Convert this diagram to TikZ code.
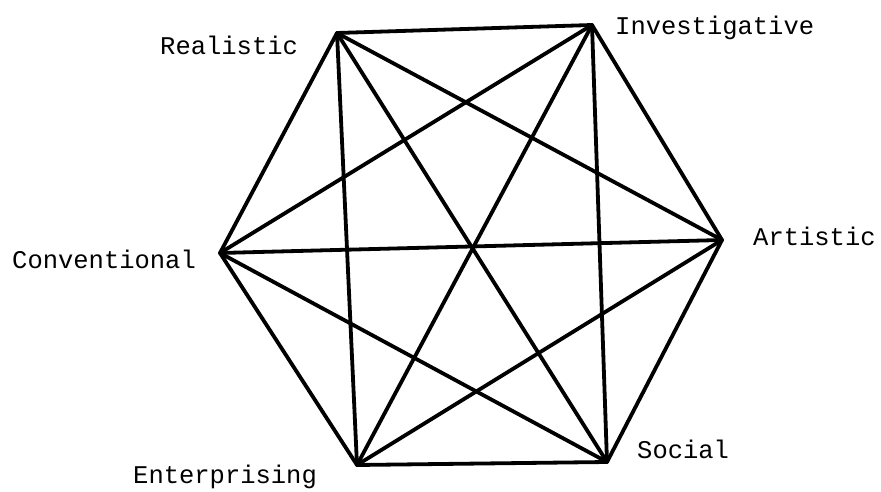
\documentclass[tikz,border=0pt]{standalone}
\usepackage{fontspec}
\setmonofont{Liberation Mono}
\begin{document}
\begin{tikzpicture}[x=1pt,y=1pt,
  vtx/.style={coordinate},
  lbl/.style={anchor=base west,inner sep=0pt,font=\ttfamily\fontsize{25.5}{30}\selectfont},
  edge/.style={line width=3.8pt,line cap=round,line join=round}]
\useasboundingbox (0,0) rectangle (881,491);
\coordinate (R) at (337,458);
\coordinate (I) at (592,466);
\coordinate (A) at (722,251);
\coordinate (S) at (607,29);
\coordinate (E) at (357,26);
\coordinate (C) at (220,238);
\node[lbl] (lR) at (160,436) {Realistic};
\node[lbl] (lI) at (615,456) {Investigative};
\node[lbl] (lA) at (753,246) {Artistic};
\node[lbl] (lC) at (12,223) {Conventional};
\node[lbl] (lE) at (133,8) {Enterprising};
\node[lbl] (lS) at (637,33) {Social};
\foreach \a/\b in {R/I,I/A,A/S,S/E,E/C,C/R,R/A,R/S,R/E,I/S,I/E,I/C,A/E,A/C,S/C}
  \draw[edge] (\a) -- (\b);
\end{tikzpicture}
\end{document}
